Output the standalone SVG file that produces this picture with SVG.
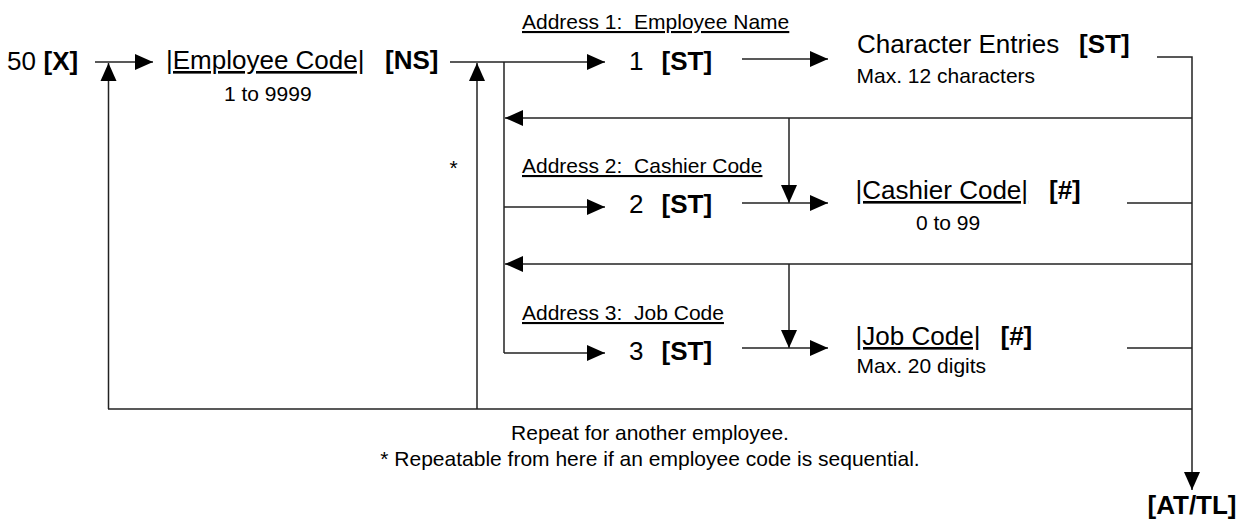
<svg xmlns="http://www.w3.org/2000/svg" width="1239" height="519" viewBox="0 0 1239 519">
<style>
text{font-family:"Liberation Sans",Arial,"DejaVu Sans",sans-serif;fill:#000;white-space:pre}
.m{font-size:26px}
.s{font-size:21px}
.b{font-weight:bold}
.u{text-decoration:underline}
.c line,.c polyline{stroke:#222;stroke-width:1.5;fill:none}
.ar{marker-end:url(#ah)}
</style>
<defs>
<marker id="ah" markerUnits="userSpaceOnUse" markerWidth="18" markerHeight="16" refX="18" refY="8" orient="auto" overflow="visible">
<path d="M0,0 L18,8 L0,16 z" fill="#000"/>
</marker>
</defs>
<rect width="1239" height="519" fill="#fff"/>
<g id="connectors" class="c">
<line class="ar" x1="95" y1="62" x2="153" y2="62"/>
<line class="ar" x1="108.5" y1="409" x2="108.5" y2="63"/>
<line class="ar" x1="450" y1="62" x2="605" y2="62"/>
<line class="ar" x1="477" y1="409" x2="477" y2="63"/>
<line x1="504" y1="62" x2="504" y2="353"/>
<line class="ar" x1="504" y1="207" x2="605" y2="207"/>
<line class="ar" x1="504" y1="353" x2="605" y2="353"/>
<line class="ar" x1="742" y1="59" x2="828" y2="59"/>
<polyline class="ar" points="1157,57 1192,57 1192,490"/>
<line class="ar" x1="1192" y1="118" x2="505" y2="118"/>
<line class="ar" x1="789" y1="118" x2="789" y2="203"/>
<line class="ar" x1="742" y1="203" x2="828" y2="203"/>
<line x1="1127" y1="203" x2="1192" y2="203"/>
<line class="ar" x1="1192" y1="264" x2="505" y2="264"/>
<line class="ar" x1="789" y1="264" x2="789" y2="348"/>
<line class="ar" x1="742" y1="348" x2="828" y2="348"/>
<line x1="1127" y1="348" x2="1192" y2="348"/>
<line x1="108" y1="409" x2="1192" y2="409"/>
</g>
<g id="n-start">
<text class="m" x="7" y="70">50</text>
<text class="m b" x="43.5" y="70">[X]</text>
</g>
<g id="n-empcode">
<text class="m u" x="166" y="69">|Employee Code|</text>
<text class="m b" x="385" y="69">[NS]</text>
<text class="s" x="224" y="101">1 to 9999</text>
</g>
<g id="n-star">
<text class="s" x="449.5" y="175">*</text>
</g>
<g id="n-addr1">
<text class="s u" x="522" y="29">Address 1:  Employee Name</text>
<text class="m" x="629" y="70">1</text>
<text class="m b" x="661.5" y="70">[ST]</text>
</g>
<g id="n-char">
<text class="m" x="857" y="53">Character Entries</text>
<text class="m b" x="1079" y="53">[ST]</text>
<text class="s" x="856.5" y="83">Max. 12 characters</text>
</g>
<g id="n-addr2">
<text class="s u" x="522" y="173">Address 2:  Cashier Code</text>
<text class="m" x="629" y="213">2</text>
<text class="m b" x="661.5" y="213">[ST]</text>
</g>
<g id="n-cashier">
<text class="m u" x="855.6" y="199">|Cashier Code|</text>
<text class="m b" x="1049" y="199">[#]</text>
<text class="s" x="916" y="230">0 to 99</text>
</g>
<g id="n-addr3">
<text class="s u" x="522" y="320">Address 3:  Job Code</text>
<text class="m" x="629" y="360">3</text>
<text class="m b" x="661.5" y="360">[ST]</text>
</g>
<g id="n-job">
<text class="m u" x="855.6" y="345">|Job Code|</text>
<text class="m b" x="1000.5" y="345">[#]</text>
<text class="s" x="856.5" y="373">Max. 20 digits</text>
</g>
<g id="n-notes">
<text class="s" x="650" y="440" text-anchor="middle">Repeat for another employee.</text>
<text class="s" x="650" y="466" text-anchor="middle">* Repeatable from here if an employee code is sequential.</text>
</g>
<g id="n-end">
<text class="m b" x="1147.5" y="514">[AT/TL]</text>
</g>
</svg>
